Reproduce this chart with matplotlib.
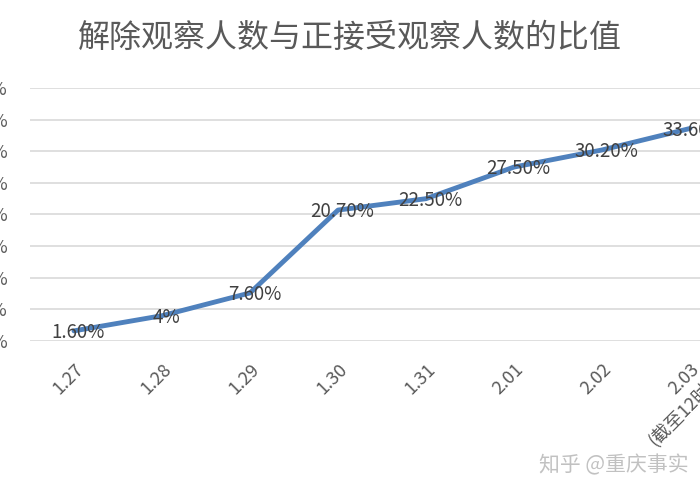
import matplotlib.pyplot as plt

plt.rcParams['font.family'] = ['Noto Sans CJK SC', 'DejaVu Sans']

dates = ['1.27', '1.28', '1.29', '1.30', '1.31', '2.01', '2.02', '2.03\n(截至12时)']
ratio = [1.6, 4, 7.6, 20.7, 22.5, 27.5, 30.2, 33.6]
labels = ['1.60%', '4%', '7.60%', '20.70%', '22.50%', '27.50%', '30.20%', '33.60%']

fig = plt.figure(figsize=(7, 5), dpi=100)
ax = fig.add_axes([30 / 700, 159 / 500, 704 / 700, 253 / 500])

x = list(range(len(dates)))
ax.plot(x, ratio, color='#4f81bd', lw=3.5, solid_capstyle='round')
for xi, yi, lab in zip(x, ratio, labels):
    ax.text(xi + 0.05, yi - 0.3, lab, ha='center', va='center', fontsize=13.5, color='#404040')

ax.set_xlim(-0.5, 7.5)
ax.set_ylim(0, 40)
ax.set_yticks(range(0, 41, 5))
ax.set_yticklabels([f'{v}%' for v in range(0, 41, 5)], fontsize=13, color='#595959')
ax.set_xticks(x)
ax.set_xticklabels(dates, rotation=45, ha='right', rotation_mode='anchor', fontsize=13, color='#595959')
ax.tick_params(length=0, axis='y', pad=16)
ax.tick_params(length=0, axis='x', pad=14)
ax.grid(axis='y', color='#d9d9d9', lw=1.2)
ax.set_axisbelow(True)
for s in ax.spines.values():
    s.set_visible(False)

fig.text(0.5, 0.925, '解除观察人数与正接受观察人数的比值', ha='center', va='center', fontsize=23, color='#595959')
fig.text(0.77, 0.07, '知乎 @重庆事实', ha='left', va='center', fontsize=15, color='#bbbbbb', alpha=0.9)

fig.savefig('out.png', dpi=100)
